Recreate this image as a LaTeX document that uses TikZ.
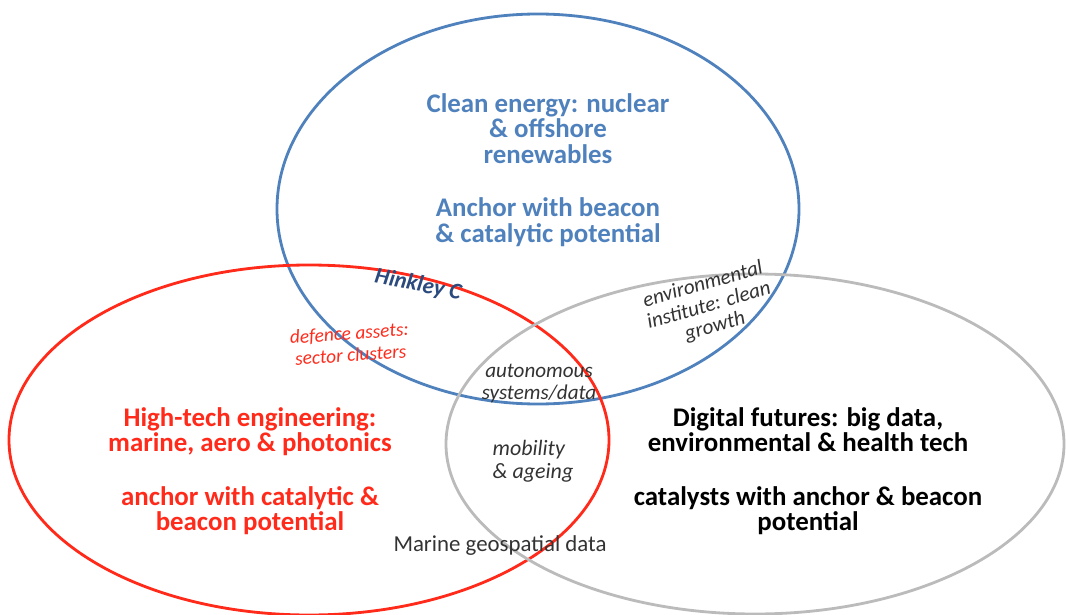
\documentclass[tikz,border=0pt]{standalone}
\usepackage{fontspec}
\setmainfont{Carlito}
\definecolor{energyblue}{HTML}{4F81BD}
\definecolor{hinkleyblue}{HTML}{2B4A7E}
\definecolor{techred}{HTML}{FF2A1A}
\definecolor{digitalgrey}{HTML}{BBBBBB}
\definecolor{smalltext}{HTML}{333333}
\tikzset{
  big/.style={align=center,font=\fontsize{15.3}{14.5}\selectfont\bfseries},
  small/.style={align=center,font=\fontsize{12}{12.5}\selectfont\itshape,text=smalltext},
}
\begin{document}
\begin{tikzpicture}[x=0.02cm,y=-0.02cm]
          \useasboundingbox (0,0) rectangle (1066,615);
          \draw[energyblue,line width=1.6pt] (538,209) ellipse [x radius=261,y radius=195];
          \draw[techred,line width=1.6pt] (309,440) ellipse [x radius=300,y radius=175];
          \draw[digitalgrey,line width=1.6pt] (755,444) ellipse [x radius=309,y radius=170];

          \node[big,text=energyblue] (energy) at (548,170) {Clean energy: nuclear\\ \& offshore\\ renewables\\[16pt] Anchor with beacon\\ \& catalytic potential};
          \node[big,text=techred] (tech) at (250,471) {High-tech engineering:\\ marine, aero \& photonics\\[16pt] anchor with catalytic \&\\ beacon potential};
          \node[big,text=black] (digital) at (808,471) {Digital futures: big data,\\ environmental \& health tech\\[16pt] catalysts with anchor \& beacon\\ potential};

          \node[small,font=\fontsize{13}{13}\selectfont\bfseries\itshape,text=hinkleyblue,rotate=-11] (hinkley) at (418,285) {Hinkley C};
          \node[small,font=\fontsize{11}{12.5}\selectfont\itshape,text=techred,rotate=4] (defence) at (350,344) {defence assets:\\ sector clusters};
          \node[small,rotate=16] (institute) at (709,306) {environmental\\ institute: clean\\ growth};
          \node[small] (autonomous) at (539,384) {autonomous\\ systems/data};
          \node[small,font=\fontsize{12.5}{13}\selectfont\itshape,align=left] (mobility) at (533,461) {mobility\\ \& ageing};
          \node[small,font=\fontsize{13}{13}\selectfont] (marine) at (500,546) {Marine geospatial data};
\end{tikzpicture}
\end{document}
